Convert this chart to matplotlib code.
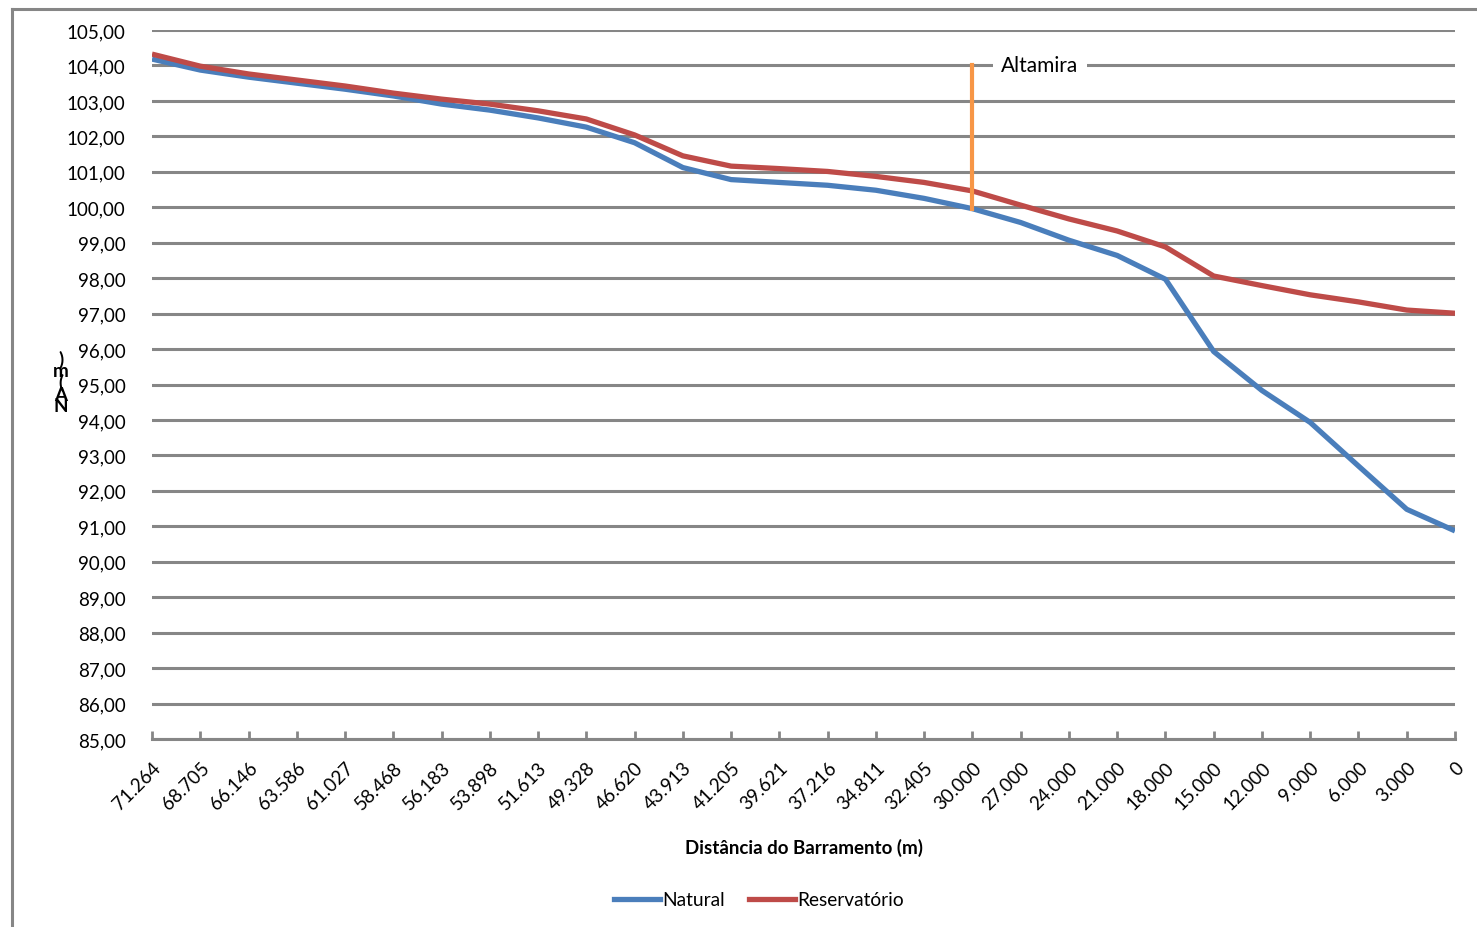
import matplotlib
matplotlib.use("Agg")
import matplotlib.pyplot as plt
from matplotlib.lines import Line2D

# Distance from the dam (m), as printed on the axis
distancias = ["71.264", "68.705", "66.146", "63.586", "61.027", "58.468", "56.183",
              "53.898", "51.613", "49.328", "46.620", "43.913", "41.205", "39.621",
              "37.216", "34.811", "32.405", "30.000", "27.000", "24.000", "21.000",
              "18.000", "15.000", "12.000", "9.000", "6.000", "3.000", "0"]

# Water level, natural condition (m)
natural = [104.18, 103.87, 103.67, 103.50, 103.33, 103.14, 102.91, 102.74, 102.52,
           102.26, 101.82, 101.12, 100.78, 100.70, 100.62, 100.48, 100.25, 99.96,
           99.57, 99.07, 98.64, 97.97, 95.93, 94.83, 93.93, 92.70, 91.48, 90.87]

# Water level with reservoir (m)
reservatorio = [104.32, 103.98, 103.76, 103.59, 103.42, 103.22, 103.05, 102.91, 102.72,
                102.49, 102.04, 101.45, 101.16, 101.09, 101.01, 100.87, 100.70, 100.46,
                100.06, 99.67, 99.33, 98.88, 98.06, 97.79, 97.53, 97.33, 97.10, 97.01]

# Altamira reference marker
altamira_idx = 17
altamira_topo = 104.0
altamira_label = "Altamira"

y_ticks = list(range(85, 106))

FONT = ["Lato", "DejaVu Sans"]
plt.rcParams["font.family"] = FONT

W, H = 1477, 928
fig = plt.figure(figsize=(W / 100, H / 100), dpi=100)
ax = fig.add_axes([152 / W, 1 - 740 / H, (1455 - 152) / W, (740 - 31) / H])

x = list(range(len(distancias)))
azul = "#4a7ebb"
vermelho = "#be4b48"
laranja = "#f79646"
cinza = "#868686"

ax.plot(x, natural, color=azul, lw=3.8, solid_capstyle="butt", zorder=3)
ax.plot(x, reservatorio, color=vermelho, lw=3.8, solid_capstyle="butt", zorder=4)

# Altamira vertical marker from the natural level up to the label
ax.plot([altamira_idx, altamira_idx], [natural[altamira_idx], altamira_topo],
        color=laranja, lw=3.0, zorder=5)
ax.text(altamira_idx + 1.4, altamira_topo, altamira_label, ha="center", va="center",
        fontsize=15, color="black", zorder=6,
        bbox=dict(facecolor="white", edgecolor="none", pad=6))

ax.set_xlim(0, len(distancias) - 1)
ax.set_ylim(85, 105)
ax.set_yticks(y_ticks)
ax.set_yticklabels([f"{v:.2f}".replace(".", ",") for v in y_ticks], fontsize=13.5)
ax.yaxis.grid(True, color=cinza, lw=2.2)
ax.set_axisbelow(True)
ax.tick_params(axis="y", length=0, pad=19)

ax.set_xticks(x)
ax.set_xticklabels(distancias, rotation=45, ha="right", va="top",
                   rotation_mode="anchor", fontsize=13.5)
ax.tick_params(axis="x", direction="in", length=6, width=2, color=cinza, pad=14)

for s in ["top", "right", "left"]:
    ax.spines[s].set_visible(False)
ax.spines["bottom"].set_color(cinza)
ax.spines["bottom"].set_linewidth(2.2)

# Axis titles
fig.text(804 / W, 1 - 848 / H, "Distância do Barramento (m)", ha="center", va="center",
         fontsize=13.5, fontweight="bold")
fig.text(61 / W, 1 - 383 / H, ")\nm\n(\nA\nN", ha="center", va="center",
         fontsize=13.5, fontweight="bold", linespacing=0.6)

# Legend
handles = [Line2D([], [], color=azul, lw=3.8), Line2D([], [], color=vermelho, lw=3.8)]
fig.legend(handles, ["Natural", "Reservatório"], loc="center",
           bbox_to_anchor=(759 / W, 1 - 901 / H), ncol=2, frameon=False,
           fontsize=13.8, handlelength=2.4, handletextpad=0.1, columnspacing=1.3)

# Chart frame (top and left edges)
fig.add_artist(Line2D([12 / W, 12 / W], [0, 1 - 10 / H], color=cinza, lw=2.2,
                      transform=fig.transFigure))
fig.add_artist(Line2D([12 / W, 1], [1 - 10 / H, 1 - 10 / H], color=cinza, lw=2.2,
                      transform=fig.transFigure))

fig.savefig("out.png", dpi=100, facecolor="white")
